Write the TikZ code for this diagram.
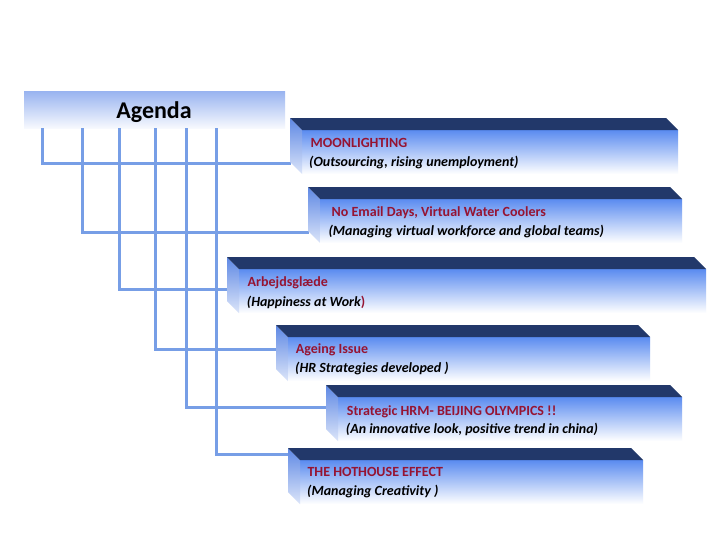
\documentclass[tikz,border=0pt]{standalone}
\usepackage{fontspec}
\setmainfont{Carlito}
\usetikzlibrary{calc}
\definecolor{ttlred}{HTML}{961432}
\definecolor{navy}{HTML}{22386A}
\definecolor{connblue}{HTML}{779EE6}
\definecolor{fblue}{HTML}{5A8BF0}
\definecolor{sblue}{HTML}{5E88E4}
\definecolor{agblue}{HTML}{98B3F0}
\tikzset{
  sideface/.style={top color=sblue, bottom color=sblue!22!white},
  topface/.style={fill=navy},
  agendabar/.style={draw=none, inner sep=0pt, outer sep=0pt, top color=agblue, bottom color=agblue!8!white},
  conn/.style={draw=connblue, line width=3pt},
  ttl/.style={anchor=base west, inner sep=0pt, text=ttlred, font=\bfseries\fontsize{14}{17}\selectfont},
  sub/.style={anchor=base west, inner sep=0pt, text=black, font=\bfseries\itshape\fontsize{14}{17}\selectfont},
}
\newcommand\agendabox[4]{%
  \node[draw=none, inner sep=0pt, outer sep=0pt, top color=fblue, middle color=fblue!45!white, bottom color=white,
        anchor=north west, minimum width={(#3-#1-12)*1pt}, minimum height=44pt] (#4) at (#1+12,#2+12) {};
  \path[sideface] (#1,#2) -- (#4.north west) -- (#4.south west) -- (#1,#2+44) -- cycle;
  \fill[topface] (#1,#2) -- (#3-12,#2) -- (#4.north east) -- (#4.north west) -- cycle;
}
\begin{document}
\begin{tikzpicture}[x=1pt,y=-1pt]
\path[use as bounding box, fill=white] (0,0) rectangle (728,546);
% agenda bar
\node[agendabar, anchor=north west, minimum width=261pt, minimum height=37pt] (ag) at (24,91) {};
\node[anchor=base, inner sep=0pt, font=\bfseries\fontsize{24}{28}\selectfont] (agt) at (154,118.5) {Agenda};
% connector start points
\coordinate (a1) at (42,128);
\coordinate (a2) at (82,128);
\coordinate (a3) at (119,128);
\coordinate (a4) at (155,128);
\coordinate (a5) at (186,128);
\coordinate (a6) at (216,128);
% connector end points
\coordinate (e1) at (291,163);
\coordinate (e2) at (309,232);
\coordinate (e3) at (228,289);
\coordinate (e4) at (277,349);
\coordinate (e5) at (327,407);
\coordinate (e6) at (289,454);
\draw[conn] (a1) |- (e1);
\draw[conn] (a2) |- (e2);
\draw[conn] (a3) |- (e3);
\draw[conn] (a4) |- (e4);
\draw[conn] (a5) |- (e5);
\draw[conn] (a6) |- (e6);
% boxes
\agendabox{290}{118}{678}{b1}
\agendabox{308}{187}{682}{b2}
\agendabox{227}{257}{706}{b3}
\agendabox{276}{325}{650}{b4}
\agendabox{326}{385}{682}{b5}
\agendabox{288}{448}{643}{b6}
% texts
\node[ttl] (t1) at (310.5,147.3) {MOONLIGHTING};
\node[sub] (s1) at (309,166.5) {(Outsourcing, rising unemployment)};
\node[ttl] (t2) at (331.5,216.7) {No Email Days, Virtual Water Coolers};
\node[sub] (s2) at (328.3,235.5) {(Managing virtual workforce and global teams)};
\node[ttl] (t3) at (247.5,286.7) {Arbejdsglæde};
\node[sub] (s3) at (246.7,306.5) {(Happiness at Work{\color{ttlred}\upshape)}};
\node[ttl] (t4) at (295.7,353) {Ageing Issue};
\node[sub] (s4) at (295,372.5) {(HR Strategies developed )};
\node[ttl] (t5) at (346.7,415) {Strategic HRM- BEIJING OLYMPICS !!};
\node[sub] (s5) at (345.7,433.5) {(An innovative look, positive trend in china)};
\node[ttl] (t6) at (307.3,476.7) {THE HOTHOUSE EFFECT};
\node[sub] (s6) at (307,495.5) {(Managing Creativity )};
\end{tikzpicture}
\end{document}
